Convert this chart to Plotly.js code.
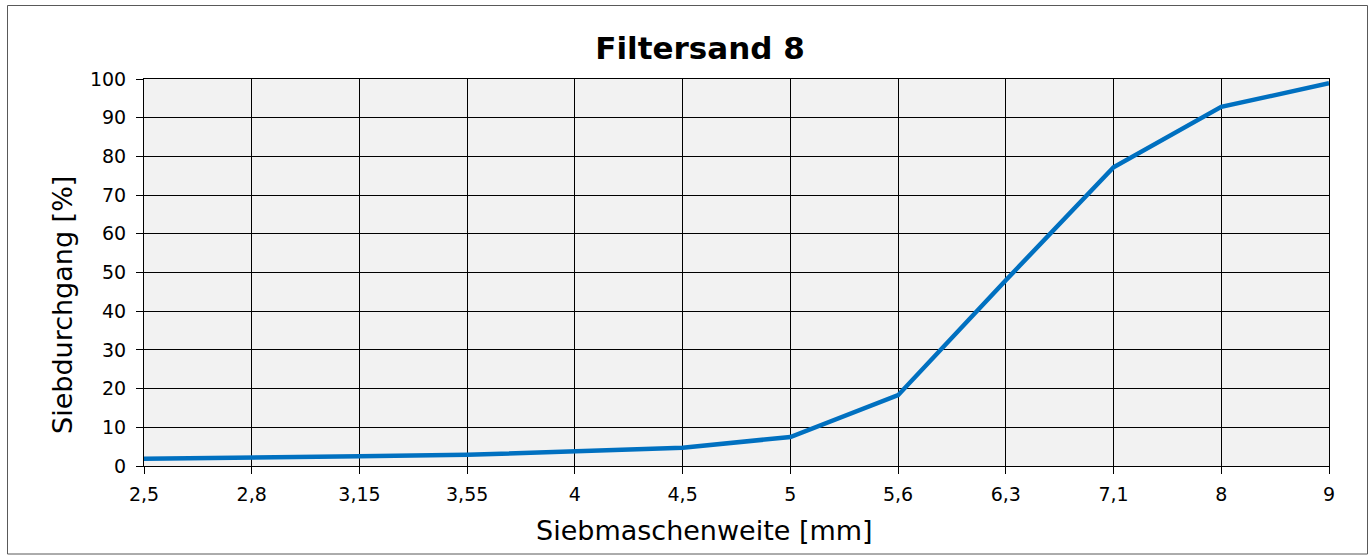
<!DOCTYPE html>
<html>
<head>
<meta charset="utf-8">
<script src="https://cdn.plot.ly/plotly-3.0.1.min.js"></script>
<style>html,body{margin:0;padding:0;background:#fff;}#chart{width:1371px;height:555px;}</style>
</head>
<body>
<div id="chart"></div>
<script>
const sieveSizes = ["2,5","2,8","3,15","3,55","4","4,5","5","5,6","6,3","7,1","8","9"];
const passing = [1.9, 2.1, 2.5, 2.9, 3.7, 4.7, 7.5, 18.3, 48, 77.2, 92.8, 98.9];
const yTicks = [0,10,20,30,40,50,60,70,80,90,100];

const W = 1371, H = 555;
const L = 144, R = 1329, T = 79, B = 466;
const px = x => (x - L) / (R - L);
const py = y => (B - y) / (B - T);
const font = "DejaVu Sans, Verdana, sans-serif";

const trace = {
  x: sieveSizes,
  y: passing,
  type: 'scatter',
  mode: 'lines',
  line: {color: '#0070C0', width: 4.5},
  hoverinfo: 'skip'
};

const layout = {
  width: W, height: H,
  margin: {l: L, r: W - R, t: T, b: H - B, pad: 0},
  paper_bgcolor: '#ffffff',
  plot_bgcolor: '#f2f2f2',
  showlegend: false,
  font: {family: font, color: '#000', size: 19},
  title: {text: '<b>Filtersand 8</b>', font: {family: font, size: 31, color: '#000'},
          x: 700 / W, xref: 'container', xanchor: 'center', y: 1 - 48 / H, yref: 'container', yanchor: 'middle'},
  xaxis: {
    type: 'category', range: [0, sieveSizes.length - 1],
    showgrid: true, gridcolor: '#000', gridwidth: 1,
    showline: true, linecolor: '#000', linewidth: 1, mirror: true,
    ticks: 'outside', ticklen: 7, tickcolor: '#000', tickwidth: 1,
    ticklabelstandoff: 4,
    tickfont: {family: font, size: 19, color: '#000'},
    zeroline: false, fixedrange: true
  },
  yaxis: {
    range: [0, 100], tickvals: yTicks, ticktext: yTicks.map(String),
    showgrid: true, gridcolor: '#000', gridwidth: 1,
    showline: true, linecolor: '#000', linewidth: 1, mirror: true,
    ticks: 'outside', ticklen: 7, tickcolor: '#000', tickwidth: 1,
    ticklabelstandoff: 6,
    tickfont: {family: font, size: 19, color: '#000'},
    zeroline: false, fixedrange: true
  },
  annotations: [
    {text: 'Siebmaschenweite [mm]', xref: 'paper', yref: 'paper', x: px(704), y: py(530),
     xanchor: 'center', yanchor: 'middle', showarrow: false, font: {family: font, size: 27, color: '#000'}},
    {text: 'Siebdurchgang [%]', xref: 'paper', yref: 'paper', x: px(62), y: py(305),
     xanchor: 'center', yanchor: 'middle', textangle: -90, showarrow: false, font: {family: font, size: 27, color: '#000'}}
  ],
  shapes: [
    {type: 'rect', xref: 'paper', yref: 'paper', x0: px(7.5), x1: px(1367.5), y0: py(554), y1: py(5.5),
     line: {color: '#595959', width: 1}, fillcolor: 'rgba(0,0,0,0)', layer: 'above'}
  ]
};

Plotly.newPlot('chart', [trace], layout, {staticPlot: true, displayModeBar: false});
</script>
</body>
</html>
